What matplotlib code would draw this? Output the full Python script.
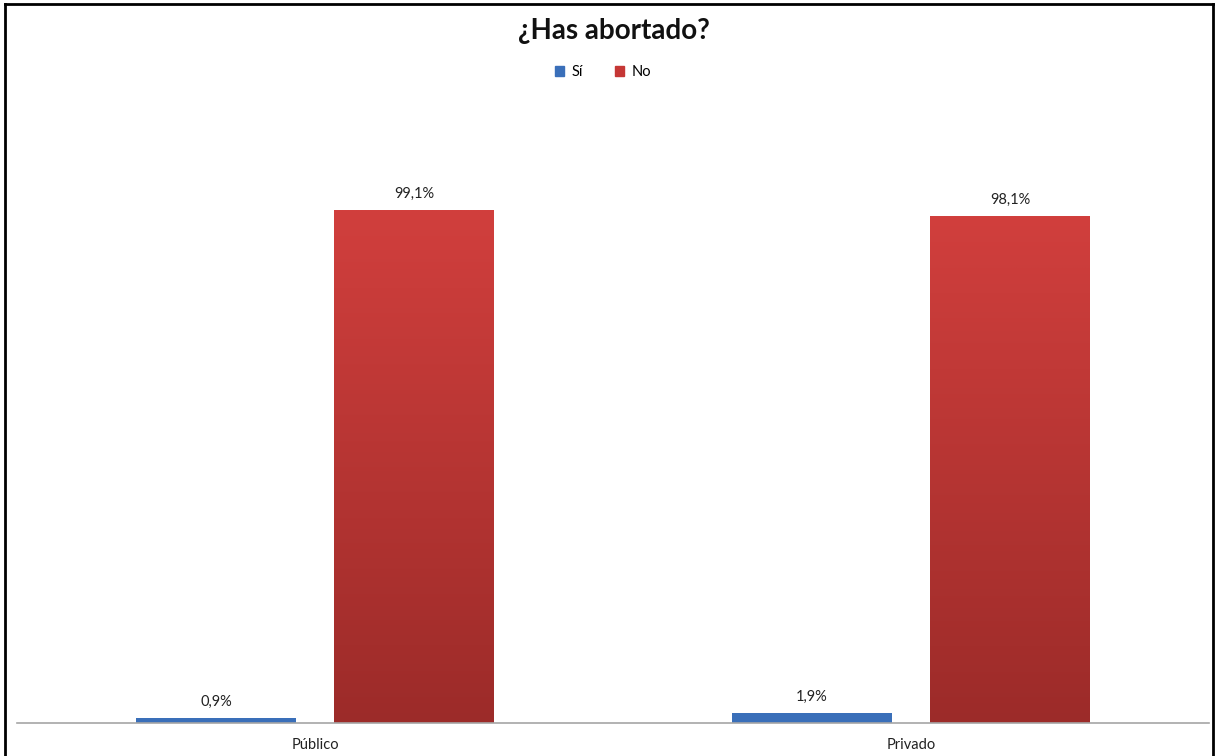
import matplotlib
matplotlib.use("Agg")
import matplotlib.pyplot as plt
import numpy as np
from matplotlib.lines import Line2D
from matplotlib.patches import Patch
from matplotlib.colors import LinearSegmentedColormap

plt.rcParams['font.family'] = ['Lato', 'DejaVu Sans']

categories = ["Público", "Privado"]
series_names = ["Sí", "No"]
si_values = [0.9, 1.9]
no_values = [99.1, 98.1]
labels_si = ["0,9%", "1,9%"]
labels_no = ["99,1%", "98,1%"]

W, H = 1217, 756
fig = plt.figure(figsize=(W / 100, H / 100), dpi=100)
ax = fig.add_axes([17 / W, 1 - 723 / H, (1209 - 17) / W, (723 - 103) / H])

x = np.arange(len(categories))
bw = 0.267
off = 0.166
blue = "#3A6FB9"
bars_si = ax.bar(x - off, si_values, bw, color=blue, zorder=2)
bars_no = ax.bar(x + off, no_values, bw, color="none", zorder=2)

# gradient fill for red bars
grad = np.linspace(0, 1, 256).reshape(-1, 1)
cmap = LinearSegmentedColormap.from_list("redgrad", ["#9C2B29", "#D13F3D"])
for b in bars_no:
    x0, w, h = b.get_x(), b.get_width(), b.get_height()
    ax.imshow(grad, extent=[x0, x0 + w, 0, h], origin="lower", cmap=cmap,
              aspect="auto", zorder=2)
ax.set_xlim(-0.5, len(categories) - 0.5)
ax.set_ylim(0, 120)

for b, t in list(zip(bars_si, labels_si)) + list(zip(bars_no, labels_no)):
    ax.annotate(t, (b.get_x() + b.get_width() / 2, b.get_height()),
                xytext=(0, 7), textcoords="offset points",
                ha="center", va="bottom", fontsize=10.5, color="#222222")

for s in ["top", "right", "left"]:
    ax.spines[s].set_visible(False)
ax.spines["bottom"].set_color("#A6A6A6")
ax.spines["bottom"].set_linewidth(1.2)
ax.set_yticks([])
ax.set_xticks(x)
ax.set_xticklabels(categories, fontsize=10.5, color="#222222")
ax.tick_params(axis="x", length=0, pad=11)

fig.text(614 / W, 1 - 31 / H, "¿Has abortado?", ha="center", va="center",
         fontsize=20, fontweight="bold", color="#111111")

handles = [Patch(color=blue), Patch(color="#C53735")]
fig.legend(handles, series_names, loc="center", bbox_to_anchor=(603 / W, 1 - 72 / H),
           ncol=2, frameon=False, fontsize=10.5, handlelength=0.65, handleheight=0.65,
           handletextpad=0.5, columnspacing=2.2)

# outer black frame
fig.add_artist(Line2D([5 / W, 5 / W], [0, 1 - 4 / H], color="black", lw=2, transform=fig.transFigure))
fig.add_artist(Line2D([5 / W, 1213 / W], [1 - 4 / H, 1 - 4 / H], color="black", lw=2, transform=fig.transFigure))
fig.add_artist(Line2D([1213 / W, 1213 / W], [0, 1 - 4 / H], color="black", lw=2, transform=fig.transFigure))

fig.savefig("out.png", dpi=100)
